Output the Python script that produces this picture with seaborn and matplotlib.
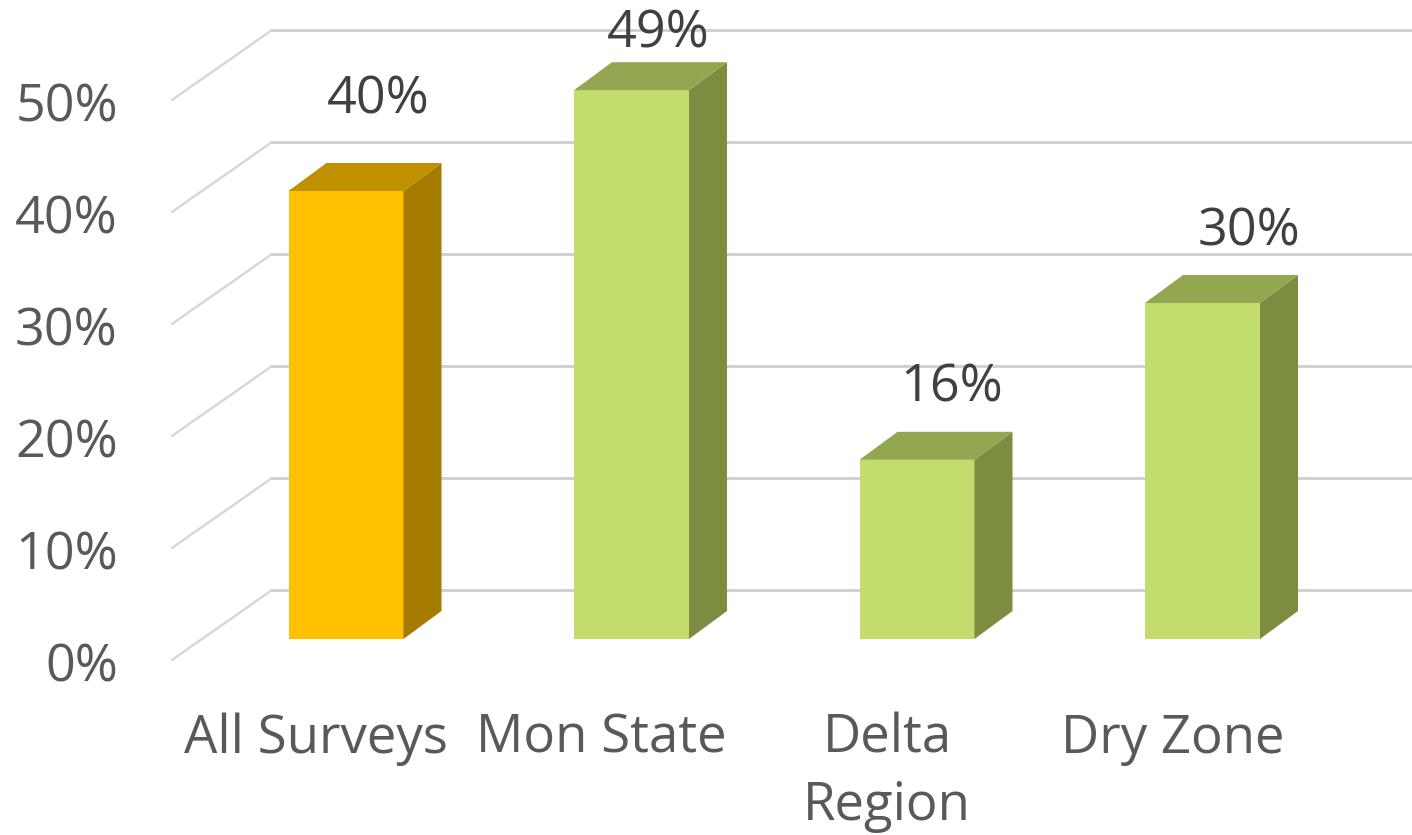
import pandas as pd
import matplotlib
matplotlib.use('Agg')
import matplotlib.pyplot as plt
import seaborn as sns
from matplotlib.patches import Polygon

categories = ['All Surveys', 'Mon State', 'Delta\nRegion', 'Dry Zone']
values = [40, 49, 16, 30]
tick_values = [0, 10, 20, 30, 40, 50]

front_colors = ['#FFC000', '#C2DD6E', '#C2DD6E', '#C2DD6E']
top_colors = ['#BF9000', '#93A650', '#93A650', '#93A650']
side_colors = ['#A67C00', '#7C8D42', '#7C8D42', '#7C8D42']

# value labels sit loosely over the bars, offsets in pixels
label_dx_px = [32, 27, 35, 47]
label_gap_px = [50, 15, 30, 30]

sns.set_theme(style='white')
plt.rcParams['font.family'] = ['Open Sans', 'DejaVu Sans']

W, H = 1412, 835
fig = plt.figure(figsize=(W / 100, H / 100), dpi=100)
# axes box goes a bit below the floor front so the 0% tick stays inside the limits
left, right, top, bottom = 172, 1412, 30, 670
ax = fig.add_axes([left / W, 1 - bottom / H, (right - left) / W, (bottom - top) / H])

px_x = 285.5   # pixels per category
px_y = 11.2    # pixels per percent
bar_w = 115 / px_x
xlim = ((left - 346) / px_x, (right - 346) / px_x)
ylim = ((639 - bottom) / px_y, (639 - top) / px_y)

df = pd.DataFrame({'category': categories, 'value': values})
sns.barplot(data=df, x='category', y='value', hue='category', palette=front_colors,
            legend=False, width=bar_w, saturation=1, linewidth=0, ax=ax, zorder=3)

# 3d depth offsets in data units
bar_dx, bar_dy = 38 / px_x, 28 / px_y
wall_x = (272 - 346) / px_x
wall_up = (639 - 590) / px_y
floor_down = (660 - 639) / px_y

for t in tick_values:
    ax.plot([xlim[0], wall_x], [t - floor_down, t + wall_up], color='#D8D8D8', lw=1.8,
            zorder=1, clip_on=False)
    ax.plot([wall_x, xlim[1]], [t + wall_up, t + wall_up], color='#CFCFCF', lw=2,
            zorder=1, clip_on=False)

for i, v in enumerate(values):
    x0, x1 = i - bar_w / 2, i + bar_w / 2
    ax.add_patch(Polygon([(x1, 0), (x1 + bar_dx, bar_dy), (x1 + bar_dx, v + bar_dy), (x1, v)],
                         facecolor=side_colors[i], edgecolor='none', zorder=3))
    ax.add_patch(Polygon([(x0, v), (x0 + bar_dx, v + bar_dy), (x1 + bar_dx, v + bar_dy), (x1, v)],
                         facecolor=top_colors[i], edgecolor='none', zorder=3))
    ax.text(i + label_dx_px[i] / px_x, v + bar_dy + label_gap_px[i] / px_y, f'{v}%',
            ha='center', va='baseline', fontsize=37.5, color='#404040', zorder=4, clip_on=False)

sns.despine(ax=ax, left=True, bottom=True, top=True, right=True)
ax.set_xlabel('')
ax.set_ylabel('')
ax.set_yticks([t - floor_down - 2 / px_y for t in tick_values])
ax.set_yticklabels([f'{t}%' for t in tick_values])
# category labels are centred a little left of their bars
ax.set_xticks([i - 30 / px_x for i in range(len(categories))])
ax.set_xticklabels(categories, linespacing=1.35)
ax.tick_params(axis='y', length=0, pad=39, labelsize=37.5, labelcolor='#595959')
ax.tick_params(axis='x', length=0, pad=30.3, labelsize=38, labelcolor='#595959')
# set_yticks can widen the view, so the limits go last
ax.set_xlim(xlim)
ax.set_ylim(ylim)

fig.savefig('out.png', dpi=100)
